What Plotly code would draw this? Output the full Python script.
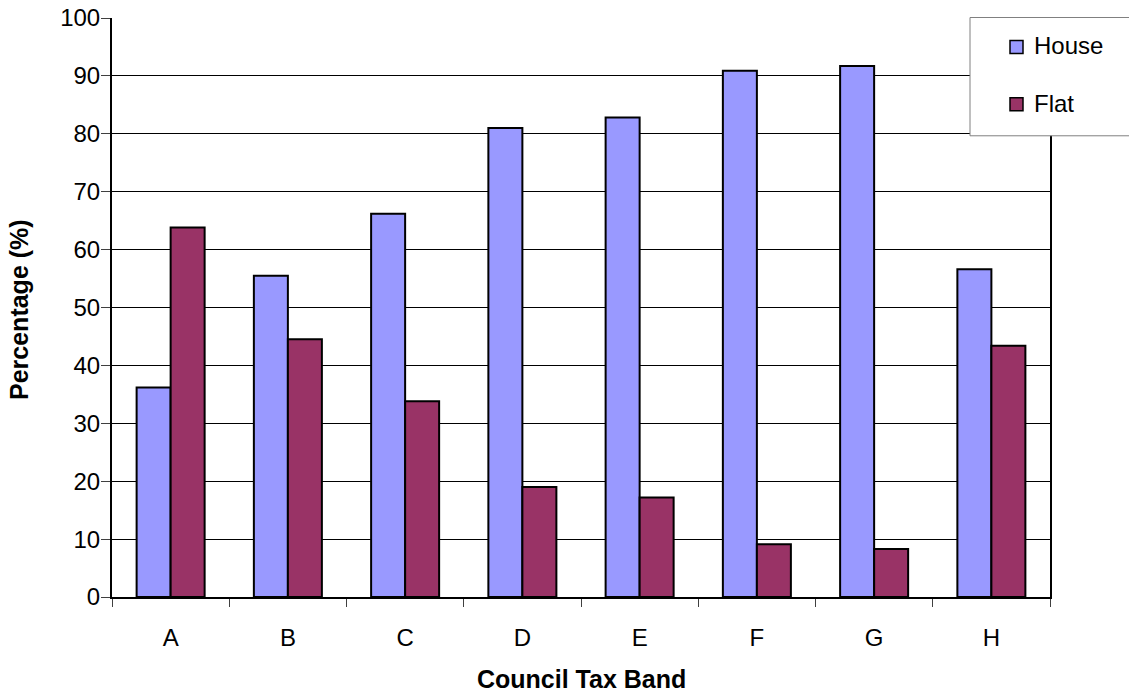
import plotly.graph_objects as go

bands = ["A", "B", "C", "D", "E", "F", "G", "H"]
house = [36.2, 55.5, 66.2, 81.0, 82.8, 90.9, 91.7, 56.6]
flat = [63.8, 44.5, 33.8, 19.0, 17.2, 9.1, 8.3, 43.4]
series_names = ["House", "Flat"]
series_colors = ["#9999FF", "#993366"]

W, H = 1129, 694
L, R, T, B = 112, 79, 17.5, 96.5
pw, ph = W - L - R, H - T - B

def px_x(x):
    return (x - L) / pw

def px_y(y):
    return (H - B - y) / ph

FONT = "Liberation Sans, Arial, sans-serif"

fig = go.Figure()
for name, vals, col in zip(series_names, [house, flat], series_colors):
    fig.add_trace(go.Bar(
        x=bands, y=vals, name=name,
        marker=dict(color=col, line=dict(color="black", width=2)),
        showlegend=False,
    ))

fig.update_layout(
    width=W, height=H,
    margin=dict(l=L, r=R, t=T, b=B, autoexpand=False),
    paper_bgcolor="white", plot_bgcolor="white",
    barmode="group", bargap=0.42, bargroupgap=0,
    font=dict(family=FONT, size=24, color="black"),
    xaxis=dict(
        type="category", showgrid=False,
        showline=True, linecolor="black", linewidth=2,
        ticks="outside", tickson="boundaries", ticklen=8, tickcolor="#404040", tickwidth=1,
        ticklabelstandoff=18,
        tickfont=dict(size=24),
    ),
    yaxis=dict(
        range=[0, 100], dtick=10, tick0=0,
        showgrid=True, gridcolor="black", gridwidth=1,
        showline=True, linecolor="black", linewidth=2, mirror=True,
        ticks="outside", ticklen=9, tickcolor="#404040", tickwidth=1,
        ticklabelstandoff=-4,
        tickfont=dict(size=24), zeroline=False,
    ),
)

# axis titles
fig.add_annotation(text="<b>Council Tax Band</b>", xref="paper", yref="paper",
                   x=px_x(581), y=px_y(680), showarrow=False,
                   font=dict(size=25, family=FONT), xanchor="center", yanchor="middle")
fig.add_annotation(text="<b>Percentage (%)</b>", xref="paper", yref="paper",
                   x=px_x(19), y=px_y(310), showarrow=False, textangle=-90,
                   font=dict(size=25, family=FONT), xanchor="center", yanchor="middle")

# legend box
fig.add_shape(type="rect", xref="paper", yref="paper",
              x0=px_x(970), x1=px_x(1140), y0=px_y(17), y1=px_y(135.5),
              line=dict(color="#808080", width=1), fillcolor="white", layer="above")
legend_y = [46.5, 104]
for name, col, yy in zip(series_names, series_colors, legend_y):
    fig.add_shape(type="rect", xref="paper", yref="paper",
                  x0=px_x(1010), x1=px_x(1023), y0=px_y(yy - 6.5), y1=px_y(yy + 6.5),
                  line=dict(color="black", width=1.5), fillcolor=col, layer="above")
    fig.add_annotation(text=name, xref="paper", yref="paper",
                       x=px_x(1032), y=px_y(yy - 1), showarrow=False,
                       xanchor="left", yanchor="middle",
                       font=dict(size=24, family=FONT))

fig.write_html("out.html", config={"displayModeBar": False},
               post_script="document.body.style.margin='0';document.body.style.overflow='hidden';")
